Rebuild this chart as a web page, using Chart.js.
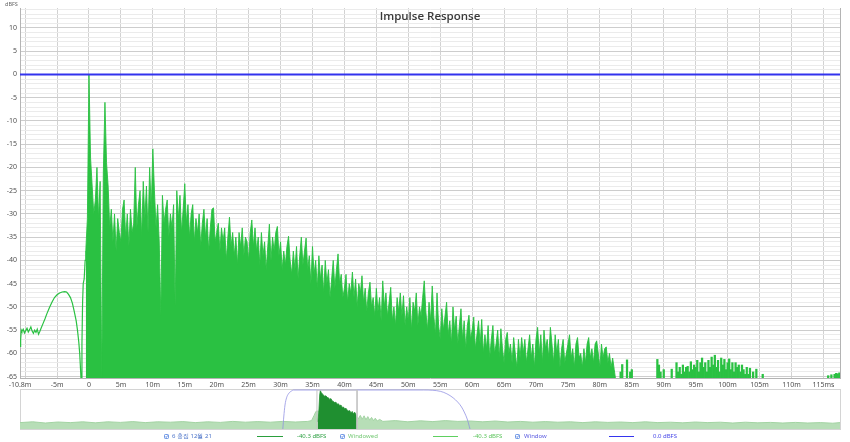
<!DOCTYPE html>
<html><head><meta charset="utf-8">
<script src="https://cdn.jsdelivr.net/npm/chart.js@4.4.1/dist/chart.umd.min.js"></script>
<style>
html,body{margin:0;padding:0;background:#fff;width:850px;height:442px;overflow:hidden;position:relative;font-family:'Noto Sans','DejaVu Sans',sans-serif;}
canvas{position:absolute;left:0;}
#main{top:0;}
#ov{top:388px;}
.t{position:absolute;white-space:nowrap;font-size:6px;line-height:8px;}
.ln{position:absolute;height:1px;}
.cb{position:absolute;width:5px;height:5px;}
#ovbox{position:absolute;left:20px;top:389px;width:819px;height:39px;border:1px solid #d4d4d4;}
</style></head>
<body>
<canvas id="main" width="850" height="390"></canvas>
<div id="ovbox"></div>
<canvas id="ov" width="850" height="42"></canvas>
<div class="t" style="left:5px;top:0px;font-size:5.5px;color:#666;">dBFS</div>
<div class="t" style="left:330px;top:8px;width:200px;text-align:center;font-family:'Open Sans','Noto Sans',sans-serif;font-weight:600;font-size:11.5px;line-height:16px;color:#3a3a3a;">Impulse Response</div>

<svg class="cb" style="left:164px;top:434px" viewBox="0 0 5 5"><rect x="0.5" y="0.5" width="4" height="4" rx="0.8" fill="#fff" stroke="#4d7fe0" stroke-width="0.8"/><path d="M1.2 2.5 L2.2 3.5 L3.9 1.3" fill="none" stroke="#3a6fd8" stroke-width="0.8"/></svg>
<div class="t" style="left:172px;top:432px;color:#4a72c8;">6 홍집 12월 21</div>
<div class="ln" style="left:257px;top:436px;width:26px;background:#2a9f3c;"></div>
<div class="t" style="left:297px;top:432px;color:#2ea043;">-40.3 dBFS</div>
<svg class="cb" style="left:340px;top:434px" viewBox="0 0 5 5"><rect x="0.5" y="0.5" width="4" height="4" rx="0.8" fill="#fff" stroke="#4d7fe0" stroke-width="0.8"/><path d="M1.2 2.5 L2.2 3.5 L3.9 1.3" fill="none" stroke="#3a6fd8" stroke-width="0.8"/></svg>
<div class="t" style="left:348px;top:432px;color:#74c874;">Windowed</div>
<div class="ln" style="left:433px;top:436px;width:25px;background:#5fd060;"></div>
<div class="t" style="left:473px;top:432px;color:#5cc45c;">-40.3 dBFS</div>
<svg class="cb" style="left:515px;top:434px" viewBox="0 0 5 5"><rect x="0.5" y="0.5" width="4" height="4" rx="0.8" fill="#fff" stroke="#4d7fe0" stroke-width="0.8"/><path d="M1.2 2.5 L2.2 3.5 L3.9 1.3" fill="none" stroke="#3a6fd8" stroke-width="0.8"/></svg>
<div class="t" style="left:524px;top:432px;color:#5a5ae0;">Window</div>
<div class="ln" style="left:609px;top:436px;width:25px;background:#3535ee;"></div>
<div class="t" style="left:653px;top:432px;color:#4848e8;">0.0 dBFS</div>

<script>
// ---------- main chart data ----------
const xTickValues = [-10.8,-10,-5,0,5,10,15,20,25,30,35,40,45,50,55,60,65,70,75,80,85,90,95,100,105,110,115,117.6];
const xTickLabels = ['-10.8m','','-5m','0','5m','10m','15m','20m','25m','30m','35m','40m','45m','50m','55m','60m','65m','70m','75m','80m','85m','90m','95m','100m','105m','110m','115ms',''];
const yTickLabelValues = [10,5,0,-5,-10,-15,-20,-25,-30,-35,-40,-45,-50,-55,-60,-65];

const windowTimes = [-10.8, 117.6];
const windowLevels = [0, 0];

const preTimes = [-10.8,-10.7,-10.6,-10.5,-10.3,-10.1,-9.9,-9.7,-9.5,-9.3,-9.1,-8.9,-8.7,-8.5,-8.3,-8.1,-7.9,-7.7,-7.5,-7.2,-6.9,-6.6,-6.2,-5.8,-5.4,-5.0,-4.6,-4.2,-3.8,-3.5,-3.2,-2.9,-2.6,-2.3,-2.0,-1.8,-1.6,-1.45,-1.3,-1.2,-1.1,-1.0,-0.9,-0.75,-0.6,-0.5];
const preLevels = [-58.5,-57,-55,-55.3,-54.8,-55.6,-55.1,-54.6,-55.4,-54.9,-54.3,-55.2,-55.7,-55.0,-55.5,-54.8,-55.9,-55.3,-54.6,-53.6,-52.6,-51.5,-50.2,-49.0,-48.0,-47.4,-47.0,-46.8,-46.7,-46.8,-47.3,-48.0,-49.2,-51.0,-53.0,-55.0,-57.5,-60,-64,-67,-58,-49,-45,-44,-40,-38];

// decay peaks/troughs sampled every 0.25 ms from -0.5 ms; -66 marks a dropout below the floor
const irStartMs = -0.5, irStepMs = 0.25;
const irLevels = [
 -38,-31,
 0,-18,-24,-30,
 -27,-20,-31,-23,
 -66,-21,-6,-19,
 -24,-33,-29,-36,
 -30,-38,-31,-34,
 -36,-29,-27,-35,
 -30,-37,-29,-34,
 -32,-20,-33,-28,
 -25,-35,-23,-31,
 -24,-34,-20,-29,
 -16,-25,-33,-28,
 -36,-52,-26,-32,
 -29,-27,-35,-30,
 -33,-28,-50,-25,
 -31,-26,-34,-29,
 -23.5,-32,-28,-35,
 -30,-28,-36,-31,
 -34,-30,-37,-32,
 -29,-35,-31,-38,
 -33,-29,-28.7,-36,
 -34,-32,-38,-33,
 -36,-33,-40,-35,
 -30.7,-37,-34,-39,
 -35,-41,-34,-37,
 -33,-39,-35,-36,
 -40,-34,-31.3,-37,
 -33,-38,-35,-41,
 -34,-39,-36,-42,
 -37,-32.2,-40,-35,
 -38,-34,-32.7,-39,
 -36,-42,-38,-41,
 -37,-34.8,-40,-43,
 -38,-42,-37,-44,
 -39,-35,-41,-38,
 -35.2,-42,-39,-45,
 -37,-43,-40,-46,
 -39,-44,-41,-47,
 -40,-45,-42,-48,
 -44,-40,-46,-42,
 -38.6,-45,-43,-48,
 -46,-43,-49,-45,
 -47,-42.5,-48,-44,
 -50,-45,-47,-43.3,
 -49,-46,-51,-47,
 -44.7,-50,-48,-52,
 -46,-51,-48,-53,
 -44.4,-50,-47,-52,
 -49,-45.8,-53,-50,
 -54,-48,-51,-47,
 -52,-47.6,-54,-50,
 -53,-48,-55,-49,
 -51,-47,-54,-50,
 -52,-48,-44.4,-51,
 -55,-49,-53,-45.5,
 -52,-56,-47,-54,
 -57,-50.4,-55,-52,
 -49,-56,-53,-58,
 -50,-55,-52,-58,
 -54,-50.4,-57,-53,
 -59,-54,-51.8,-57,
 -55,-52.2,-59,-56,
 -53,-58,-52.7,-60,
 -56,-59,-54,-61,
 -57,-54,-60,-58,
 -55,-61,-54.7,-59,
 -62,-57,-55.5,-60,
 -58,-62,-56.6,-60,
 -63,-57,-61,-56.6,
 -60,-57,-62,-59,
 -56,-61,-58,-63,
 -57,-54.4,-60,-56,
 -62,-55,-59,-57,
 -61,-54.4,-58,-62,
 -56,-60,-57,-63,
 -59,-57,-62,-60,
 -58,-56,-61,-59,
 -63,-58,-56.6,-61,
 -60,-63,-59,-62,
 -58,-56.6,-61,-59,
 -62,-58,-57.3,-60,
 -63,-58,-61,-59,
 -58.6,-62,-60,-63,
 -61,-63.5,-66
];

const tailTimes = [83.25,83.5,84.25,84.75,85.0,89.0,89.25,89.5,90.0,91.25,
 92.0,92.25,92.5,92.75,93.0,93.25,93.5,93.75,94.0,94.25,94.5,94.75,95.0,95.25,95.5,95.75,
 96.0,96.25,96.5,96.75,97.0,97.25,97.5,97.75,98.0,98.25,98.5,98.75,99.0,99.25,99.5,99.75,
 100.0,100.25,100.5,100.75,101.0,101.25,101.5,101.75,102.0,102.25,102.5,102.75,103.0,103.25,103.5,
 104.0,104.5,105.5,115.75,116.25,116.75,117.0,117.25,117.5];
const tailLevels = [-64,-62.4,-61.4,-64,-63.5,-61.3,-62.5,-64,-63.5,-63.4,
 -62,-64,-63,-64.5,-62.5,-64,-63,-62.8,-64,-61.8,-63.5,-62.5,-63,-61.5,-64,-62,
 -61,-63,-62,-64,-61.5,-63,-60.8,-62.5,-60.4,-63,-61.5,-64,-61,-62.5,-61.3,-63.5,
 -62,-61.2,-63.5,-62,-64,-62,-63,-62.5,-64,-62.5,-63.5,-64.5,-63,-64.5,-63.2,
 -64,-63.4,-64.5,-64.8,-64.6,-64.5,-64.3,-64.4,-64.2];

// ---------- overview data ----------
const ovFloorTimes = [-961,-920,-880,-840,-800,-760,-720,-680,-640,-600,-560,-520,-480,-440,-400,-360,-320,-280,-240,-200,-160,-120,-80,-40,-28,-20,-14,-10,
 117,122,128,134,140,146,152,158,164,170,176,182,190,200,
 240,280,320,360,400,440,480,520,560,600,640,680,720,760,800,840,880,920,960,1000,1040,1080,1120,1160,1200,1240,1280,1320,1360,1400,1440,1480,1520,1560,1600,1640,1663];
const ovFloorLevels = [-84,-82,-85,-82.5,-84,-82,-84.5,-82,-83.5,-81.5,-84,-82,-83,-81.5,-84,-82,-83.5,-81,-83,-81.5,-83,-81,-82.5,-81,-79,-66,-56,-55,
 -70,-74,-66,-76,-67,-77,-69,-78,-71,-79,-73,-80,-76,-81,
 -79,-82,-79.5,-81.5,-79,-81,-80,-82,-80,-82.5,-81,-83,-81.5,-83,-82,-84,-82,-83.5,-82.5,-84,-82,-84,-83,-84.5,-82.5,-84,-83,-85,-83,-84.5,-83.5,-85,-83.5,-85,-84,-85.5,-84];

const ovWindowedTimes = [-8,-5,-2,0,3,6,10,14,18,22,26,30,34,38,42,46,50,54,58,62,66,70,74,78,82,86,90,94,98,102,106,110,114,117];
const ovWindowedLevels = [-82,-60,-15,-4,-9,-12,-15,-18,-17,-21,-22,-26,-24,-30,-31,-34,-33,-38,-37,-42,-40,-46,-45,-50,-48,-53,-55,-54,-60,-56,-62,-58,-64,-82];

const ovWindowTimes = [-120,-117,-113,-108,-102,-96,-90,-86,330,360,385,405,425,440,452,462,470,479];
const ovWindowLevels = [-100,-70,-40,-22,-12,-7,-4,-2.5,-2.5,-3.2,-6,-12,-22,-33,-45,-60,-75,-100];

const ovViewTimes = [-10.8,-10.8,117.6,117.6];
const ovViewLevels = [-100,-2.5,-2.5,-100];

// ---------- build ----------
const pts = (xs, ys) => xs.map((x, i) => ({x: x, y: ys[i]}));
const GREEN = '#2ac142';
const tickFont = {family: "'Noto Sans','DejaVu Sans',sans-serif", size: 7};

new Chart(document.getElementById('main'), {
  type: 'bar',
  data: {
    datasets: [
      {type: 'line', label: 'Window', data: pts(windowTimes, windowLevels), borderColor: '#3333ee', borderWidth: 2, pointRadius: 0, order: 0},
      {type: 'line', label: 'pre', data: pts(preTimes, preLevels), borderColor: GREEN, borderWidth: 1.2, pointRadius: 0, order: 1},
      {type: 'line', label: 'IR', data: irLevels.map((v, i) => ({x: irStartMs + i * irStepMs, y: v})),
        borderColor: GREEN, backgroundColor: GREEN, borderWidth: 0.9, pointRadius: 0, fill: 'start', tension: 0, order: 2},
      {type: 'bar', label: 'tail', data: pts(tailTimes, tailLevels),
        backgroundColor: GREEN, borderWidth: 0, base: -65.3, grouped: false, barThickness: 1.6, order: 3}
    ]
  },
  options: {
    responsive: false, animation: false, events: [],
    layout: {padding: {left: 0, right: 10, top: 8, bottom: 0}},
    plugins: {legend: {display: false}, tooltip: {enabled: false}, title: {display: false}},
    scales: {
      x: {
        type: 'linear', min: -10.8, max: 117.6, offset: false,
        afterBuildTicks: s => { s.ticks = xTickValues.map(v => ({value: v})); },
        afterFit: s => { s.height = 12; },
        grid: {offset: false, drawTicks: false, color: c => (c.tick && (c.tick.value === -10.8 || c.tick.value === 117.6)) ? '#b4b4b4' : '#d2d2d2'},
        border: {display: true, color: '#b4b4b4'},
        ticks: {autoSkip: false, maxRotation: 0, padding: 3, font: tickFont, color: '#505050',
          callback: (v, i) => xTickLabels[i]}
      },
      y: {
        type: 'linear', min: -65.3, max: 14.3,
        afterBuildTicks: s => {
          const t = [];
          for (let v = -65; v <= 14; v++) t.push({value: v});
          s.ticks = t;
        },
        afterFit: s => { s.width = 20; },
        grid: {drawTicks: false, color: c => (c.tick && yTickLabelValues.includes(c.tick.value)) ? '#cdcdcd' : '#ebebeb'},
        border: {display: true, color: '#b4b4b4'},
        ticks: {autoSkip: false, padding: 3, font: tickFont, color: '#505050',
          callback: v => yTickLabelValues.includes(v) ? String(v) : ''}
      }
    }
  }
});

new Chart(document.getElementById('ov'), {
  type: 'line',
  data: {
    datasets: [
      {label: 'view', data: pts(ovViewTimes, ovViewLevels), borderColor: '#c6c6c6', borderWidth: 1, pointRadius: 0, order: 0},
      {label: 'window', data: pts(ovWindowTimes, ovWindowLevels), borderColor: 'rgba(140,140,225,0.75)', borderWidth: 1, pointRadius: 0, cubicInterpolationMode: 'monotone', order: 1},
      {label: 'windowed', data: pts(ovWindowedTimes, ovWindowedLevels), borderColor: '#1f8f30', backgroundColor: '#1f8f30', fill: 'start', borderWidth: 0.8, pointRadius: 0, order: 2},
      {label: 'floor', data: pts(ovFloorTimes, ovFloorLevels), borderColor: '#a3d3a3', backgroundColor: '#b7deb7', fill: 'start', borderWidth: 1, pointRadius: 0, order: 3}
    ]
  },
  options: {
    responsive: false, animation: false, events: [],
    layout: {padding: {left: 20, right: 10, top: 1, bottom: 1}},
    plugins: {legend: {display: false}, tooltip: {enabled: false}},
    scales: {
      x: {type: 'linear', display: false, min: -961, max: 1663},
      y: {type: 'linear', display: false, min: -100, max: 0}
    }
  }
});
</script>
</body></html>
